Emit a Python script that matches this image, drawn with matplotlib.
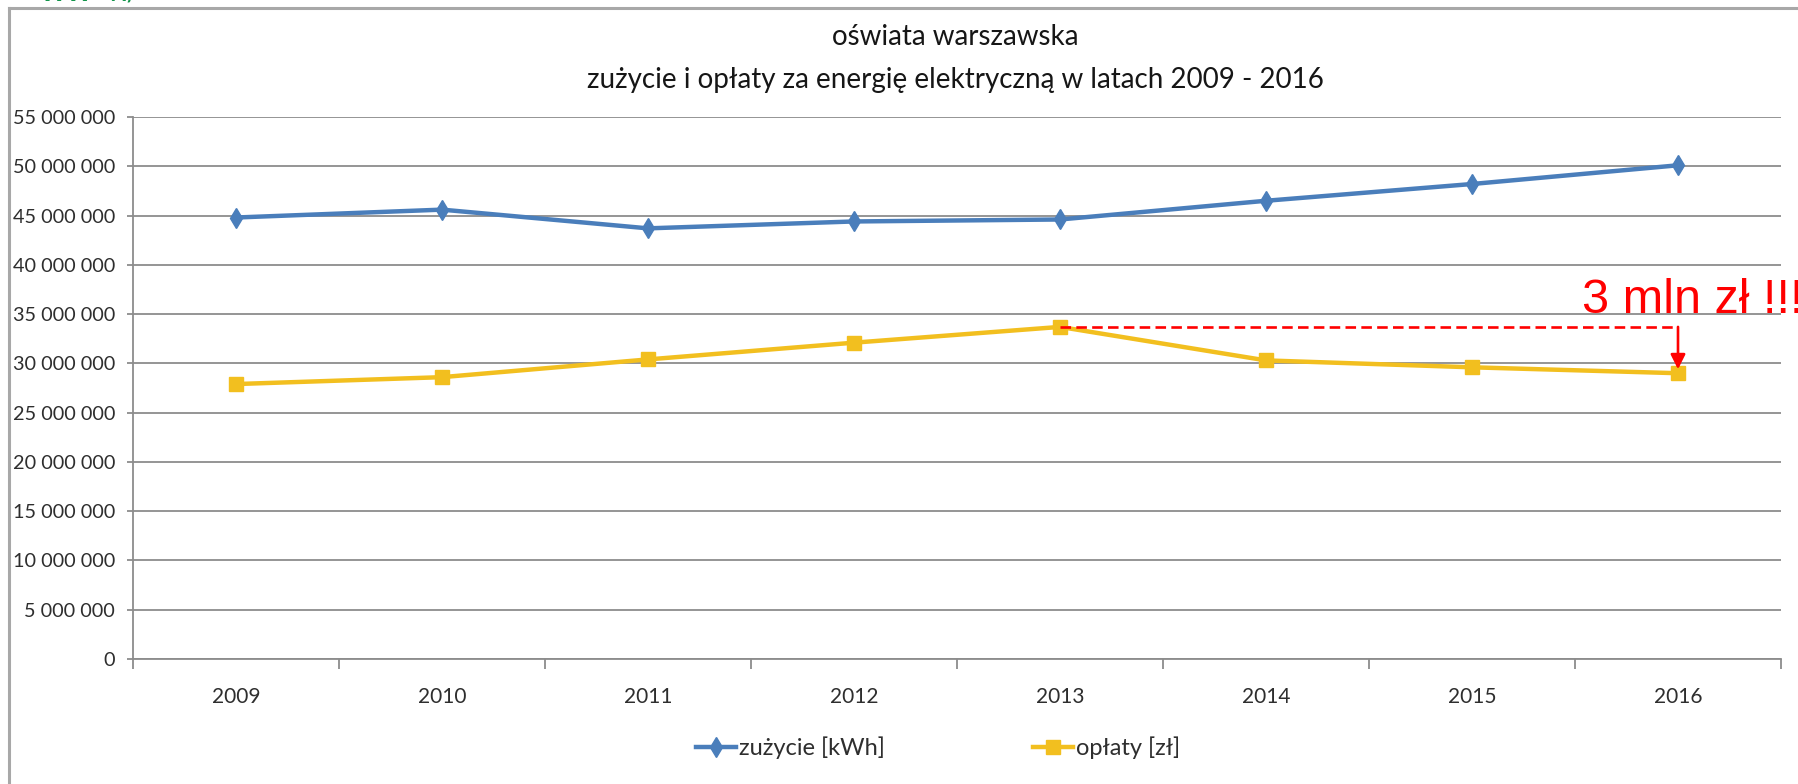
import numpy as np
import matplotlib
matplotlib.use('Agg')
import matplotlib.pyplot as plt
from matplotlib.lines import Line2D
from matplotlib.ticker import FixedLocator, FuncFormatter, MultipleLocator

plt.rcParams['font.family'] = ['Lato', 'DejaVu Sans']

# ── dane ──
lata = ['2009', '2010', '2011', '2012', '2013', '2014', '2015', '2016']
zuzycie_kwh = [44800000, 45600000, 43700000, 44400000, 44600000, 46500000, 48200000, 50100000]
oplaty_zl = [27900000, 28600000, 30400000, 32100000, 33700000, 30300000, 29600000, 29000000]

tytul = 'oświata warszawska\nzużycie i opłaty za energię elektryczną w latach 2009 - 2016'
etykieta_zuz = 'zużycie [kWh]'
etykieta_opl = 'opłaty [zł]'
napis = '3 mln zł !!!'

NIEBIESKI = '#4A7EBB'
ZOLTY = '#F2BF1F'
SIATKA = '#8C8C8C'
TEKST = '#2E2E2E'

W, H = 1798, 784
fig = plt.figure(figsize=(W / 100, H / 100), dpi=100)
ax = fig.add_axes([133 / W, 1 - 659 / H, (1781 - 133) / W, (659 - 117) / H])

x = np.arange(len(lata))

# siatka i osie
ax.set_xlim(-0.5, len(lata) - 0.5)
ax.set_ylim(0, 55000000)
ax.yaxis.set_major_locator(MultipleLocator(5000000))
ax.yaxis.set_major_formatter(FuncFormatter(lambda v, p: f'{int(round(v)):,}'.replace(',', ' ')))
ax.grid(axis='y', color=SIATKA, lw=1.3)
ax.set_axisbelow(True)
for s in ['top', 'right']:
    ax.spines[s].set_visible(False)
for s in ['left', 'bottom']:
    ax.spines[s].set_color(SIATKA)
    ax.spines[s].set_linewidth(1.3)

ax.set_xticks(x)
ax.set_xticklabels(lata)
ax.xaxis.set_minor_locator(FixedLocator(np.arange(len(lata) + 1) - 0.5))
ax.tick_params(axis='x', which='major', length=0, pad=20, labelsize=15, labelcolor=TEKST)
ax.tick_params(axis='x', which='minor', length=7, width=1.3, color=SIATKA)
ax.tick_params(axis='y', length=4, width=1.3, color=SIATKA, pad=9, labelsize=14.3, labelcolor=TEKST)

# serie
ax.plot(x, zuzycie_kwh, color=NIEBIESKI, lw=3.2, marker='d', ms=10.5,
        mfc=NIEBIESKI, mec=NIEBIESKI, label=etykieta_zuz, zorder=3)
ax.plot(x, oplaty_zl, color=ZOLTY, lw=3.2, marker='s', ms=10,
        mfc=ZOLTY, mec=ZOLTY, label=etykieta_opl, zorder=3)

# adnotacja: spadek opłat 2013 -> 2016
i0, i1 = lata.index('2013'), lata.index('2016')
ax.plot([x[i0], x[i1]], [oplaty_zl[i0], oplaty_zl[i0]], color='red', lw=1.9,
        dashes=(4, 2), zorder=4)
ax.annotate('', xy=(x[i1], oplaty_zl[i1] + 400000), xytext=(x[i1], oplaty_zl[i0]),
            arrowprops=dict(arrowstyle='-|>', color='red', lw=1.9, mutation_scale=22,
                            shrinkA=0, shrinkB=0), zorder=5)
ax.text(x[i1] - 0.466, 35100000, napis, color='red', fontsize=35,
        family=['Liberation Sans', 'DejaVu Sans'], va='baseline', ha='left',
        clip_on=False, zorder=5)

# tytuł
fig.text(955 / W, 1 - 37 / H, tytul.split('\n')[0], ha='center', va='center',
         fontsize=20, color='#161616')
fig.text(955 / W, 1 - 80 / H, tytul.split('\n')[1], ha='center', va='center',
         fontsize=20, color='#161616')

# legenda
fig.legend(loc='center', bbox_to_anchor=(938 / W, 1 - 748 / H), ncol=2, frameon=False,
           fontsize=17, handlelength=1.7, handletextpad=0.1, columnspacing=6.3,
           labelcolor=TEKST)

# ramka wykresu i fragment logo
fig.add_artist(Line2D([9 / W, 9 / W], [0, 1 - 8 / H], color='#A8A8A8', lw=2.2))
fig.add_artist(Line2D([9 / W, 1], [1 - 8 / H, 1 - 8 / H], color='#A8A8A8', lw=2.2))
fig.text(40 / W, 1 - 6 / H, 'ww', color='#12944A', fontsize=24, fontweight='bold',
         va='bottom', ha='left')
fig.text(100 / W, 1 - 6 / H, '-x/-', color='#12944A', fontsize=22,
         va='bottom', ha='left')

fig.savefig('out.png', dpi=100)
